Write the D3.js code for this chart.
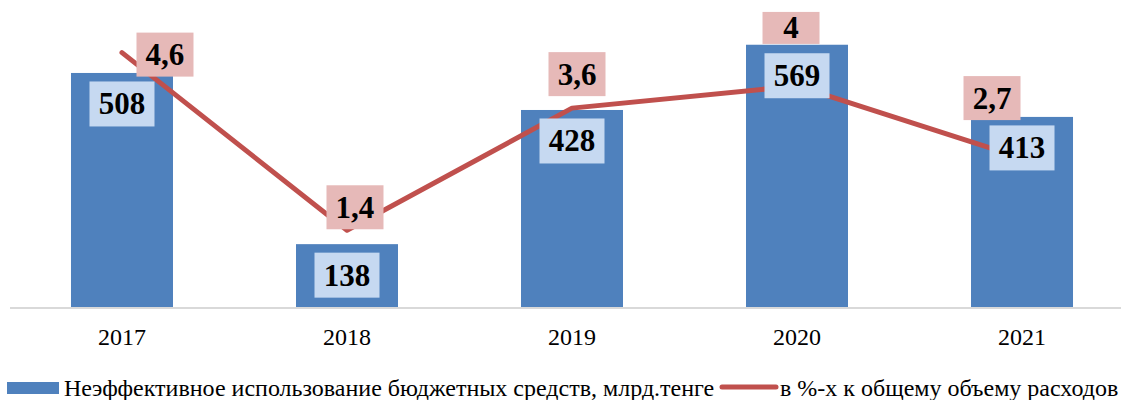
<!DOCTYPE html>
<html lang="ru">
<head>
<meta charset="UTF-8">
<title>Неэффективное использование бюджетных средств</title>
<script src="https://d3js.org/d3.v7.min.js"></script>
<style>
  body { margin: 0; background: #fff; }
  text { font-family: "Liberation Serif", "Times New Roman", serif; }
</style>
</head>
<body>
<svg id="chart" width="1121" height="400"></svg>
<script>
const years = ["2017", "2018", "2019", "2020", "2021"];
const amounts = [508, 138, 428, 569, 413];          // млрд. тенге
const shares = [4.6, 1.4, 3.6, 4, 2.7];             // % к общему объему расходов
const shareLabels = ["4,6", "1,4", "3,6", "4", "2,7"];
const legendNames = ["Неэффективное использование бюджетных средств, млрд.тенге",
                     "в %-х к общему объему расходов"];

// hand placement of the line labels, as in the original
const shareLabelShift = [[43, 2], [8, -23], [5, -34], [-6, -58], [-30, -60]];

const svg = d3.select("#chart");
const baseY = 308, topY = 30.4;

const x = d3.scaleBand()
  .domain(years)
  .range([9.5, 1134.5])
  .paddingInner(0.5467)
  .paddingOuter(0.2733);

const y = d3.scaleLinear().domain([0, 600]).range([baseY, topY]);
const y2 = d3.scaleLinear().domain([0, 5]).range([baseY, topY]);

const blue = "#4f81bd", red = "#c0504d";

// bars
svg.append("g").selectAll("rect")
  .data(amounts)
  .join("rect")
  .attr("x", (d, i) => x(years[i]))
  .attr("y", d => y(d))
  .attr("width", x.bandwidth())
  .attr("height", d => baseY - y(d))
  .attr("fill", blue);

// category axis
const xAxis = svg.append("g")
  .attr("transform", `translate(0,${baseY})`)
  .call(d3.axisBottom(x).tickSize(0).tickPadding(0));
xAxis.select(".domain").attr("stroke", "#d9d9d9").attr("stroke-width", 2)
  .attr("d", "M10,0H1121");
xAxis.selectAll(".tick text")
  .attr("dy", null)
  .attr("y", 37)
  .attr("fill", "#000")
  .style("font-size", "24px")
  .style("font-family", "'Liberation Serif', serif");

// line
const cx = i => x(years[i]) + x.bandwidth() / 2;
const line = d3.line().x((d, i) => cx(i)).y(d => y2(d));
svg.append("path")
  .datum(shares)
  .attr("d", line)
  .attr("fill", "none")
  .attr("stroke", red)
  .attr("stroke-width", 5)
  .attr("stroke-linecap", "round")
  .attr("stroke-linejoin", "round");

// data labels
function boxLabel(g, text, cxp, cyp, fill, minW, h) {
  const t = g.append("text")
    .attr("x", cxp).attr("y", cyp)
    .attr("text-anchor", "middle")
    .attr("dominant-baseline", "central")
    .attr("font-weight", "bold")
    .attr("font-size", 31)
    .attr("fill", "#000")
    .text(text);
  const w = Math.max(t.node().getComputedTextLength() + 18, minW);
  g.insert("rect", "text")
    .attr("x", cxp - w / 2).attr("y", cyp - h / 2)
    .attr("width", w).attr("height", h)
    .attr("fill", fill);
}

const barLab = svg.append("g");
amounts.forEach((d, i) => {
  boxLabel(barLab.append("g"), String(d), cx(i), y(d) + 31, "#c6d9f1", 65, 45);
});

const lineLab = svg.append("g");
shares.forEach((d, i) => {
  const [dx, dy] = shareLabelShift[i];
  const h = shareLabels[i].length === 1 ? 32 : 44;
  boxLabel(lineLab.append("g"), shareLabels[i], cx(i) + dx, y2(d) + dy, "#e6b9b8", 57, h);
});

// legend
const lg = svg.append("g");
lg.append("rect").attr("x", 7).attr("y", 382).attr("width", 52).attr("height", 12).attr("fill", blue);
lg.append("text").attr("x", 64).attr("y", 396).attr("font-size", 24).attr("fill", "#000").text(legendNames[0]);
lg.append("line").attr("x1", 722).attr("x2", 776).attr("y1", 387).attr("y2", 387)
  .attr("stroke", red).attr("stroke-width", 5).attr("stroke-linecap", "round");
lg.append("text").attr("x", 780).attr("y", 396).attr("font-size", 24).attr("fill", "#000").text(legendNames[1]);
</script>
</body>
</html>
